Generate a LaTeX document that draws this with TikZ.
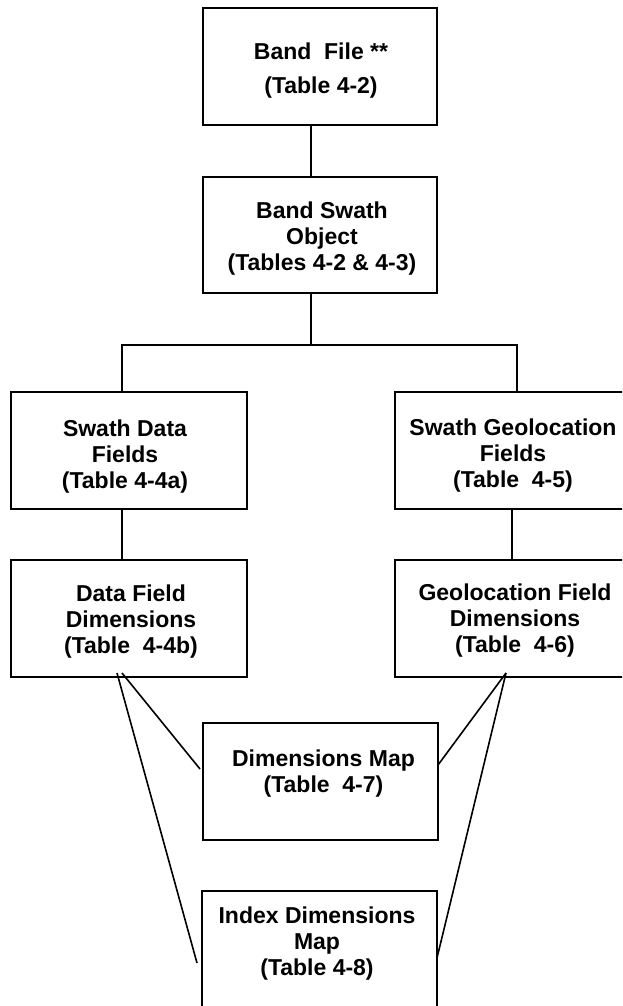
\documentclass[tikz,border=0pt]{standalone}
\usepackage{fontspec}
\setmainfont{Liberation Sans}
\begin{document}
\begin{tikzpicture}[x=1pt,y=-1pt,
  box/.style={draw, line width=1.8pt, inner sep=0pt, outer sep=0pt},
  lbl/.style={font=\bfseries\fontsize{23}{26}\selectfont, align=center, inner sep=0pt},
  conn/.style={line width=1.6pt}]
\useasboundingbox (0,0) rectangle (622,1006);
\clip (0,0) rectangle (622,1006);
% boxes
\node[box, minimum width=234pt, minimum height=117pt] (bf)  at (320,66.5) {};
\node[box, minimum width=234pt, minimum height=116pt] (bso) at (320,235) {};
\node[box, minimum width=236pt, minimum height=117pt] (sdf) at (129,450.5) {};
\node[box, minimum width=236pt, minimum height=117pt] (dfd) at (129,618.5) {};
\node[box, minimum width=236pt, minimum height=117pt] (sgf) at (513,450.5) {};
\node[box, minimum width=236pt, minimum height=117pt] (gfd) at (513,618.5) {};
\node[box, minimum width=235pt, minimum height=117pt] (dm)  at (320.5,781.5) {};
\node[box, minimum width=235pt, minimum height=140pt] (idm) at (319.5,961) {};
% labels
\node[lbl] (tbf)  at (321,71)    {Band\ \ File **\\[8pt](Table 4-2)};
\node[lbl] (tbso) at (322,238.5) {Band Swath\\Object\\(Tables 4-2 \& 4-3)};
\node[lbl] (tsdf) at (125,456.5) {Swath Data\\Fields\\(Table 4-4a)};
\node[lbl] (tdfd) at (131,622)   {Data Field\\Dimensions\\(Table\ \ 4-4b)};
\node[lbl] (tsgf) at (513,455.5) {Swath Geolocation\\Fields\\(Table\ \ 4-5)};
\node[lbl] (tgfd) at (515,621)   {Geolocation Field\\Dimensions\\(Table\ \ 4-6)};
\node[lbl] (tdm)  at (323.5,774) {Dimensions Map\\(Table\ \ 4-7)};
\node[lbl] (tidm) at (317,943.5) {Index Dimensions\\Map\\(Table 4-8)};
% tree connectors
\coordinate (hubM) at (311,345);
\coordinate (hubL) at (122,345);
\coordinate (hubR) at (517,345);
\coordinate (gx)   at (512,345);
\draw[conn] (hubM |- bf.south) -- (hubM |- bso.north);
\draw[conn] (hubM |- bso.south) -- (hubM);
\draw[conn] (hubL |- sdf.north) -- (hubL) -- (hubR) -- (hubR |- sgf.north);
\draw[conn] (hubL |- sdf.south) -- (hubL |- dfd.north);
\draw[conn] (gx |- sgf.south) -- (gx |- gfd.north);
% fan connectors
\coordinate (dfa)  at (117,673);
\coordinate (dfb)  at (122,673);
\coordinate (gfa)  at (506,673);
\coordinate (dmL)  at (200,769);
\coordinate (dmR)  at (438,765);
\coordinate (idmL) at (197,963);
\coordinate (idmR) at (437,958);
\draw[conn] (dfa) -- (idmL);
\draw[conn] (dfb) -- (dmL);
\draw[conn] (gfa) -- (dmR);
\draw[conn] (gfa) -- (idmR);
\end{tikzpicture}
\end{document}
